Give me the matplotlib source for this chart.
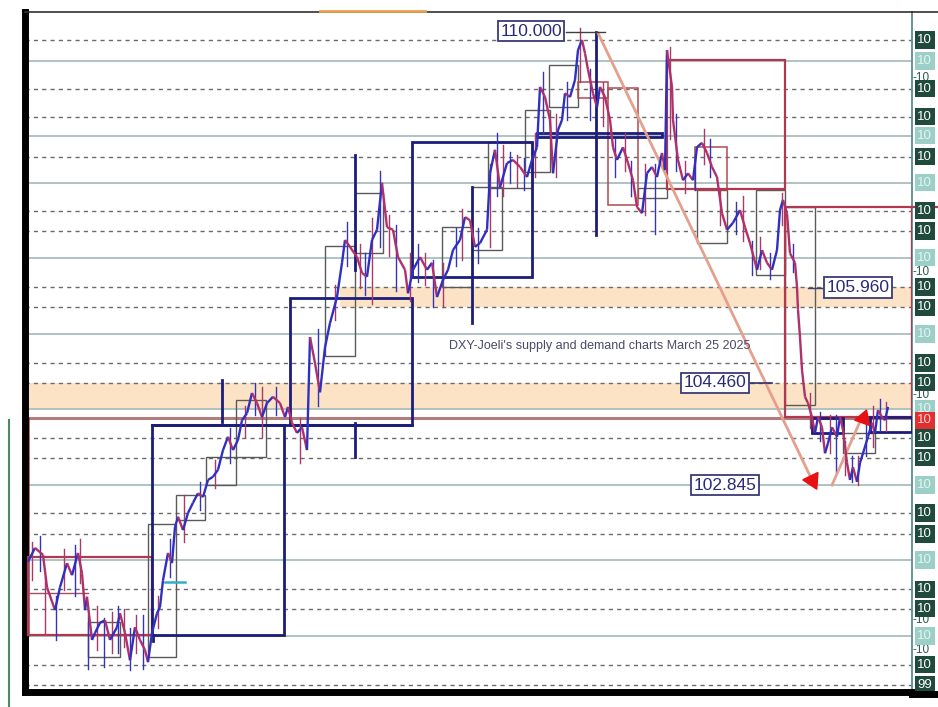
import numpy as np
import matplotlib.pyplot as plt
from matplotlib.collections import LineCollection
from matplotlib.patches import Rectangle
import matplotlib.transforms as mtransforms

plt.rcParams['font.family'] = ['Liberation Sans', 'DejaVu Sans']

# price path (bar index, close)
bars = [28, 35, 43, 47, 55, 60, 67, 72, 78, 82, 85, 87, 92, 95, 100, 105, 110, 117, 120, 125,
        130, 135, 140, 145, 148, 152, 157, 160, 163, 168, 172, 175, 178, 183, 188, 193, 198, 203, 208, 213,
        218, 223, 228, 233, 238, 242, 247, 252, 257, 262, 267, 273, 280, 285, 288, 292, 297, 302, 307, 310,
        315, 320, 325, 330, 337, 342, 345, 350, 357, 362, 367, 372, 377, 382, 387, 393, 398, 405, 408, 413,
        420, 427, 432, 437, 443, 448, 453, 460, 465, 470, 475, 480, 487, 490, 495, 500, 507, 513, 520, 527,
        532, 537, 540, 545, 550, 553, 558, 562, 565, 570, 575, 578, 582, 585, 588, 593, 597, 600, 605, 610,
        613, 617, 623, 628, 633, 637, 642, 647, 652, 657, 662, 665, 667, 672, 673, 678, 683, 688, 693, 697,
        702, 707, 712, 717, 722, 727, 733, 740, 745, 750, 757, 762, 767, 772, 777, 780, 783, 787, 790, 795,
        797, 798, 800, 802, 805, 808, 812, 815, 818, 822, 825, 828, 832, 837, 840, 843, 847, 850, 853, 857,
        860, 863, 868, 872, 875, 878, 882, 885, 888]
close = [101.64, 101.86, 101.75, 101.24, 100.88, 101.24, 101.62, 101.43, 101.78, 101.46, 100.88, 101.09, 100.41, 100.52, 100.68, 100.72, 100.41, 100.61, 100.83, 100.52,
         100.09, 100.61, 100.41, 100.25, 100.06, 100.52, 100.83, 100.93, 101.35, 101.78, 101.62, 102.19, 102.35, 102.14, 102.41, 102.57, 102.72, 102.66, 102.93, 102.98,
         103.09, 103.40, 103.61, 103.40, 103.56, 103.87, 103.98, 104.30, 104.14, 103.92, 104.14, 104.24, 104.14, 103.92, 104.08, 103.83, 103.67, 103.76, 103.40, 105.18,
         104.77, 104.31, 105.02, 105.40, 105.81, 106.35, 106.71, 106.60, 106.44, 106.19, 106.13, 106.71, 106.87, 107.61, 106.91, 106.87, 106.44, 106.24, 105.87, 106.24,
         106.44, 106.24, 106.35, 105.81, 106.08, 106.24, 106.55, 106.71, 107.07, 107.02, 106.60, 106.66, 106.87, 107.76, 108.13, 107.54, 107.92, 107.97, 107.86, 107.70,
         107.97, 108.17, 109.12, 108.96, 108.60, 107.76, 108.44, 108.60, 109.02, 108.96, 109.23, 109.70, 109.86, 109.65, 109.39, 109.02, 108.80, 109.12, 108.96, 108.60,
         108.17, 107.97, 108.17, 107.92, 107.65, 107.23, 107.13, 107.76, 107.86, 107.70, 108.08, 107.81, 109.70, 109.12, 108.60, 107.97, 107.65, 107.76, 107.65, 108.17,
         108.24, 108.08, 107.86, 107.70, 107.13, 106.87, 106.98, 107.18, 106.91, 106.66, 106.24, 106.55, 106.35, 106.24, 106.55, 107.18, 107.34, 107.13, 106.50, 106.35,
         105.97, 105.61, 105.18, 104.66, 104.24, 104.14, 103.92, 103.67, 103.92, 103.76, 103.35, 103.51, 103.76, 103.61, 103.92, 103.72, 103.20, 102.93, 103.13, 102.90,
         103.20, 103.35, 103.61, 103.83, 103.67, 104.03, 103.92, 103.87, 104.08]

# visible high/low wicks (bar, low, high)
wicks = [(32, 101.35, 101.95), (40, 101.50, 102.05), (45, 100.50, 101.40), (56, 100.41, 101.10),
         (64, 101.20, 101.85), (75, 101.10, 101.90), (80, 101.30, 102.00), (88, 99.95, 100.80),
         (97, 100.25, 100.95), (104, 99.98, 100.75), (112, 100.20, 100.85), (118, 100.20, 100.95),
         (124, 100.30, 100.90), (130, 99.93, 100.60), (136, 100.20, 100.80), (143, 99.96, 100.80),
         (158, 100.60, 101.10), (170, 101.40, 102.00), (184, 101.95, 102.70), (200, 102.45, 102.90),
         (215, 102.80, 103.25), (230, 103.20, 103.75), (245, 103.60, 104.10), (255, 103.95, 104.45),
         (262, 103.60, 104.40), (276, 103.95, 104.40), (300, 103.20, 103.90), (318, 104.10, 105.30),
         (335, 105.45, 106.00), (347, 106.30, 107.00), (360, 105.95, 106.65), (365, 105.85, 106.50),
         (372, 105.70, 107.05), (380, 106.60, 107.80), (389, 106.45, 107.10), (396, 105.90, 106.95),
         (410, 105.75, 106.50), (418, 106.05, 106.65), (425, 106.00, 106.50), (433, 105.65, 106.40),
         (443, 105.65, 106.35), (456, 106.30, 106.90), (462, 106.40, 107.20), (478, 106.35, 106.90),
         (490, 106.60, 107.90), (497, 107.40, 108.40), (503, 107.40, 108.20), (510, 107.60, 108.10),
         (517, 107.55, 108.05), (524, 107.50, 108.00), (535, 107.70, 108.40), (543, 108.40, 109.35),
         (556, 107.70, 108.70), (567, 108.60, 109.20), (580, 109.20, 110.05), (590, 108.60, 109.40),
         (603, 108.50, 109.20), (615, 107.70, 108.30), (625, 107.80, 108.40), (631, 107.40, 107.95),
         (645, 107.10, 107.90), (655, 106.80, 107.90), (670, 108.30, 109.75), (676, 107.80, 108.70),
         (685, 107.45, 107.95), (695, 107.50, 108.05), (704, 107.90, 108.45), (710, 107.70, 108.30),
         (720, 106.95, 107.50), (736, 106.80, 107.30), (743, 106.70, 107.40), (752, 106.15, 106.70),
         (760, 106.25, 106.75), (770, 106.10, 106.50), (782, 106.95, 107.45), (793, 106.20, 106.65),
         (810, 103.75, 104.30), (820, 103.55, 104.00), (830, 103.35, 103.95), (836, 103.05, 103.95),
         (845, 103.00, 103.55), (852, 102.90, 103.30), (858, 102.85, 103.30), (866, 103.30, 103.80),
         (873, 103.45, 104.10), (880, 103.70, 104.20), (886, 103.70, 104.15)]

# horizontal levels
dashed_levels = [109.86, 109.09, 108.65, 108.02, 107.17, 106.85, 105.97, 105.65, 104.77, 104.46,
                 103.59, 103.28, 102.41, 102.08, 101.21, 100.90, 100.02, 99.70]
solid_levels = [109.53, 108.35, 107.61, 106.43, 105.23, 104.05, 102.85, 101.67, 100.47]
tick_levels = [109.26, 106.20, 104.27, 100.72, 100.25]
zones = [(340, 912, 105.65, 105.97), (28, 912, 104.05, 104.46)]

# boxes (left, right, low, high)
navy_boxes = [(152, 284, 100.49, 103.80), (290, 412, 103.80, 105.80), (412, 532, 106.13, 108.25),
              (537, 662, 108.33, 108.39), (812, 843, 103.67, 103.91), (870, 912, 103.69, 103.92)]
navy_vlines = [(222, 103.85, 104.50), (355, 106.24, 108.05), (355, 103.29, 103.83),
               (472, 105.40, 107.54), (596, 106.79, 109.98), (153, 100.40, 100.49)]
red_boxes = [(28, 152, 100.49, 101.72), (667, 785, 107.51, 109.54), (785, 912, 103.92, 107.23)]
thin_boxes = [(88, 120, 100.14, 100.69), (148, 176, 100.14, 102.24), (176, 205, 102.30, 102.69),
              (206, 236, 102.85, 103.29), (236, 266, 103.29, 104.19), (325, 355, 104.88, 106.61),
              (355, 383, 106.50, 107.45), (442, 472, 105.97, 106.91), (472, 502, 106.55, 107.54),
              (488, 532, 107.53, 108.25), (525, 550, 107.78, 108.76), (549, 578, 108.80, 109.46),
              (638, 667, 107.37, 107.53), (697, 727, 106.66, 107.50), (756, 785, 106.16, 107.50),
              (785, 815, 104.11, 107.23), (843, 875, 103.35, 103.67)]
thin_red_boxes = [(608, 638, 107.26, 109.10), (695, 727, 107.50, 108.17), (578, 608, 108.95, 109.20)]

labels = [(531, 110.000, "110.000"), (858, 105.960, "105.960"), (715, 104.460, "104.460"), (725, 102.845, "102.845")]
title = "DXY-Joeli's supply and demand charts March 25 2025"
last_price = 103.87

fig = plt.figure(figsize=(9.38, 7.07), dpi=100, facecolor='white')
ax = fig.add_axes([25 / 938, 1 - 692 / 707, 887 / 938, 680 / 707])
ax.set_xlim(25, 912)
ax.set_ylim(99.59, 110.30)
ax.set_xticks([])
ax.set_yticks([])

for lv in dashed_levels:
    ax.axhline(lv, color='#6a6a6a', lw=1.0, dashes=(3, 3), zorder=1)
for lv in solid_levels:
    ax.axhline(lv, color='#a9bebe', lw=1.3, zorder=1)
for x0, x1, lo, hi in zones:
    ax.fill_between([x0, x1], lo, hi, color='#fde3c6', lw=0, zorder=0.5)

# long support line
ax.plot([28, 912], [103.91, 103.91], color='#b07c7c', lw=2.2, zorder=2)
ax.plot([28, 28], [100.49, 103.91], color='#b03a4a', lw=1.8, zorder=2)

for x0, x1, lo, hi in thin_boxes:
    ax.add_patch(Rectangle((x0, lo), x1 - x0, hi - lo, fill=False, ec='#5a5a5a', lw=1.0, zorder=2))
for x0, x1, lo, hi in thin_red_boxes:
    ax.add_patch(Rectangle((x0, lo), x1 - x0, hi - lo, fill=False, ec='#b04a50', lw=1.1, zorder=2))
for x0, x1, lo, hi in red_boxes:
    ax.add_patch(Rectangle((x0, lo), x1 - x0, hi - lo, fill=False, ec='#b03850', lw=1.6, zorder=3))
ax.plot([912, 938], [107.23, 107.23], color='#b03850', lw=1.6, clip_on=False, zorder=3)
for x0, x1, lo, hi in navy_boxes:
    ax.add_patch(Rectangle((x0, lo), x1 - x0, hi - lo, fill=False, ec='#1c1c7a', lw=2.0, zorder=3))
ax.plot([152, 412], [103.80, 103.80], color='#1c1c7a', lw=2.0, zorder=3)
for x, lo, hi in navy_vlines:
    ax.plot([x, x], [lo, hi], color='#1c1c7a', lw=2.0, zorder=3)
ax.plot([28, 88], [101.15, 101.15], color='#a05060', lw=1.0, zorder=2)
ax.plot([165, 185], [101.32, 101.32], color='#30b0c8', lw=1.8, zorder=4)

# price
for i, (x, lo, hi) in enumerate(wicks):
    ax.plot([x, x], [lo, hi], color='#3434b8' if i % 2 else '#a83a6a', lw=1.0, zorder=4)
pts = np.column_stack([bars, close])
segs = np.stack([pts[:-1], pts[1:]], axis=1)
cols = ['#3030c0' if b > a else '#b0306a' for a, b in zip(close[:-1], close[1:])]
ax.add_collection(LineCollection(segs, colors=cols, linewidths=1.7, zorder=5))

# arrows
ax.plot([598, 812], [109.97, 102.93], color='#e4a08c', lw=2.0, zorder=4)
ax.plot([812], [102.93], marker=(3, 0, -154), ms=14, color='#e81010', zorder=6)
ax.plot([832, 862], [102.85, 103.92], color='#e4a08c', lw=2.0, zorder=4)
ax.plot([863], [103.90], marker=(3, 0, 100), ms=13, color='#e81010', zorder=6)

# price labels
ax.plot([566, 605], [109.98, 109.98], color='#404040', lw=1.0, zorder=4)
ax.plot([808, 824], [105.96, 105.96], color='#404070', lw=1.0, zorder=4)
ax.plot([750, 772], [104.46, 104.46], color='#303070', lw=1.2, zorder=4)
for x, y, t in labels:
    ax.text(x, y, t, ha='center', va='center', fontsize=12.5, color='#2a2a78', zorder=7,
            bbox=dict(boxstyle='square,pad=0.15', fc='white', ec='#3a3a78', lw=1.3))
ax.text(600, 105.04, title, ha='center', va='center', fontsize=9, color='#4a4a6a', zorder=7)

# right price axis (labels cut by the window edge, only first digits show)
trans = mtransforms.blended_transform_factory(ax.transAxes, ax.transData)
for lv in tick_levels:
    ax.text(1.0, lv, "-" + f"{lv:.3f}"[:2], transform=trans, fontsize=8.5, color='#2a5a4a',
            va='center', clip_on=False)
for lv in dashed_levels:
    ax.text(1.006, lv, f"{lv:.3f}"[:2], transform=trans, fontsize=9.5, color='white', va='center',
            clip_on=False, bbox=dict(boxstyle='square,pad=0.2', fc='#1f4a3c', ec='none'))
for lv in solid_levels:
    ax.text(1.006, lv, f"{lv:.3f}"[:2], transform=trans, fontsize=9.5, color='#e4f4f0', va='center',
            clip_on=False, bbox=dict(boxstyle='square,pad=0.2', fc='#9ccfc8', ec='none'))
ax.text(1.006, last_price, f"{last_price:.3f}"[:2], transform=trans, fontsize=9.5, color='#ffd0d0',
        va='center', clip_on=False, bbox=dict(boxstyle='square,pad=0.2', fc='#e03030', ec='none'))

for s in ax.spines.values():
    s.set_color('black')
ax.spines['left'].set_linewidth(5)
ax.spines['bottom'].set_linewidth(5)
ax.spines['top'].set_linewidth(1.2)
ax.spines['top'].set_color('#303030')
ax.spines['right'].set_color('#5c8c8c')
ax.spines['right'].set_linewidth(1.3)
fig.add_artist(plt.Line2D([912 / 938, 1], [1 - 694 / 707] * 2, color='black', lw=5))
fig.add_artist(plt.Line2D([912 / 938, 1], [1 - 12 / 707] * 2, color='#303030', lw=1.2))
fig.add_artist(plt.Line2D([320 / 938, 425 / 938], [1 - 11 / 707] * 2, color='#e8a050', lw=2))
fig.add_artist(plt.Line2D([9 / 938, 9 / 938], [0, 1 - 420 / 707], color='#4a8a6a', lw=1.5))

fig.savefig('out.png', dpi=100)
